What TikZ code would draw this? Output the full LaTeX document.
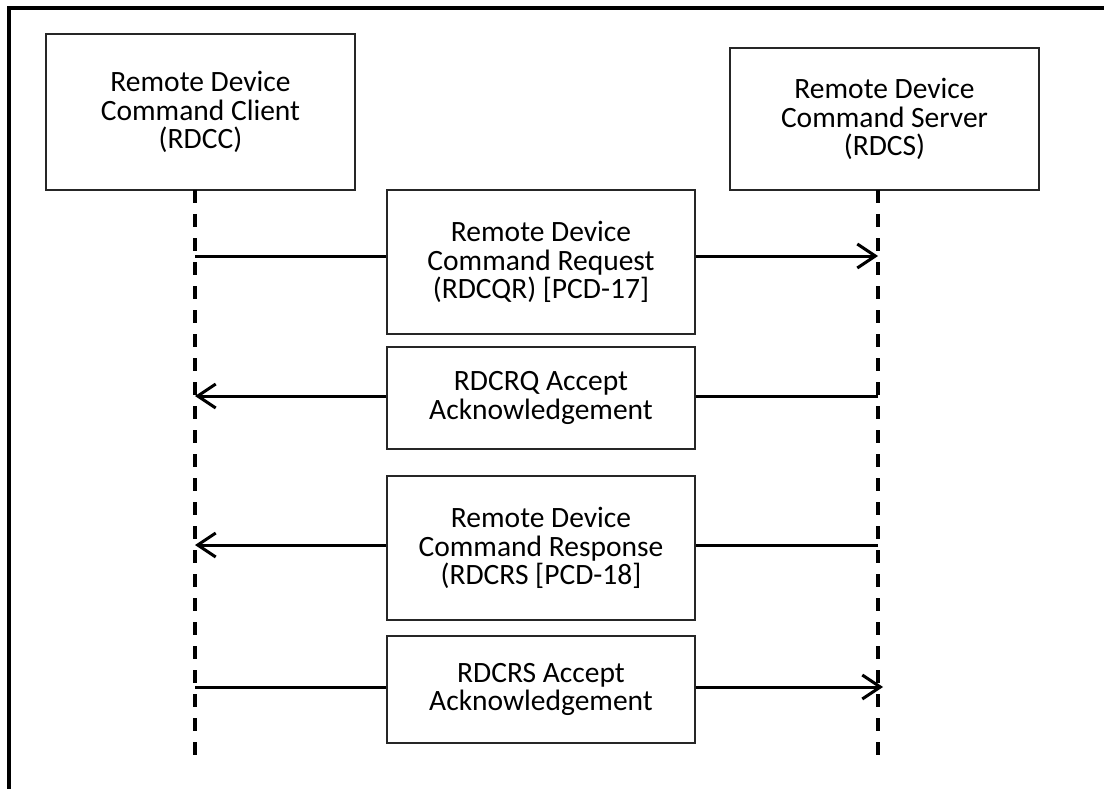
\documentclass[tikz,border=0pt]{standalone}
\usepackage{fontspec}
\setmainfont{Carlito}
\usetikzlibrary{arrows.meta}
\tikzset{
  actorbox/.style={draw=black!85, line width=1.2pt, fill=white, align=center, inner sep=0pt,
    font=\fontsize{29.5}{28.5}\selectfont},
  msgbox/.style={actorbox, minimum width=308pt},
  lifeline/.style={line width=3.6pt, dash pattern=on 13pt off 11pt},
  msg/.style={line width=3pt},
  msgarrow/.style={line width=3pt, -{Straight Barb[length=18pt,width=24pt,line width=3pt]}},
  frameline/.style={line width=4pt}
}
\begin{document}
\begin{tikzpicture}[x=1pt,y=-1pt]
\useasboundingbox (0,0) rectangle (1104,789);
% outer frame (top and left edges visible)
\coordinate (ftl) at (9,8);
\coordinate (ftr) at (1106,8);
\coordinate (fbl) at (9,791);
\draw[frameline] (ftr) -- (ftl) -- (fbl);

% actors
\node[actorbox, minimum width=309pt, minimum height=156pt] (rdcc) at (200.5,112)
  {Remote Device\\Command Client\\(RDCC)};
\node[actorbox, minimum width=309pt, minimum height=142pt] (rdcs) at (884.5,119)
  {Remote Device\\Command Server\\(RDCS)};

% lifelines
\coordinate (ctop) at (195,190);
\coordinate (cbot) at (195,762);
\coordinate (stop) at (878,190);
\coordinate (sbot) at (878,762);
\draw[lifeline] (ctop) -- (cbot);
\draw[lifeline] (stop) -- (sbot);

% message boxes
\node[msgbox, minimum height=144pt] (m1) at (541,262)
  {Remote Device\\Command Request\\(RDCQR) [PCD-17]};
\node[msgbox, minimum height=102pt] (m2) at (541,398)
  {RDCRQ Accept\\Acknowledgement};
\node[msgbox, minimum height=144pt] (m3) at (541,548)
  {Remote Device\\Command Response\\(RDCRS [PCD-18]};
\node[msgbox, minimum height=107pt] (m4) at (541,689.5)
  {RDCRS Accept\\Acknowledgement};

% message anchor points on lifelines
\coordinate (c1) at (195,256);
\coordinate (s1) at (878,256);
\coordinate (c2) at (195,396);
\coordinate (s2) at (878,396);
\coordinate (c3) at (195,545);
\coordinate (s3) at (878,545);
\coordinate (c4) at (195,687);
\coordinate (s4) at (883,687);

% messages
\draw[msg] (c1) -- (c1 -| m1.west);
\draw[msgarrow] (s1 -| m1.east) -- (s1);
\draw[msg] (s2) -- (s2 -| m2.east);
\draw[msgarrow] (c2 -| m2.west) -- (c2);
\draw[msg] (s3) -- (s3 -| m3.east);
\draw[msgarrow] (c3 -| m3.west) -- (c3);
\draw[msg] (c4) -- (c4 -| m4.west);
\draw[msgarrow] (s4 -| m4.east) -- (s4);
\end{tikzpicture}
\end{document}
